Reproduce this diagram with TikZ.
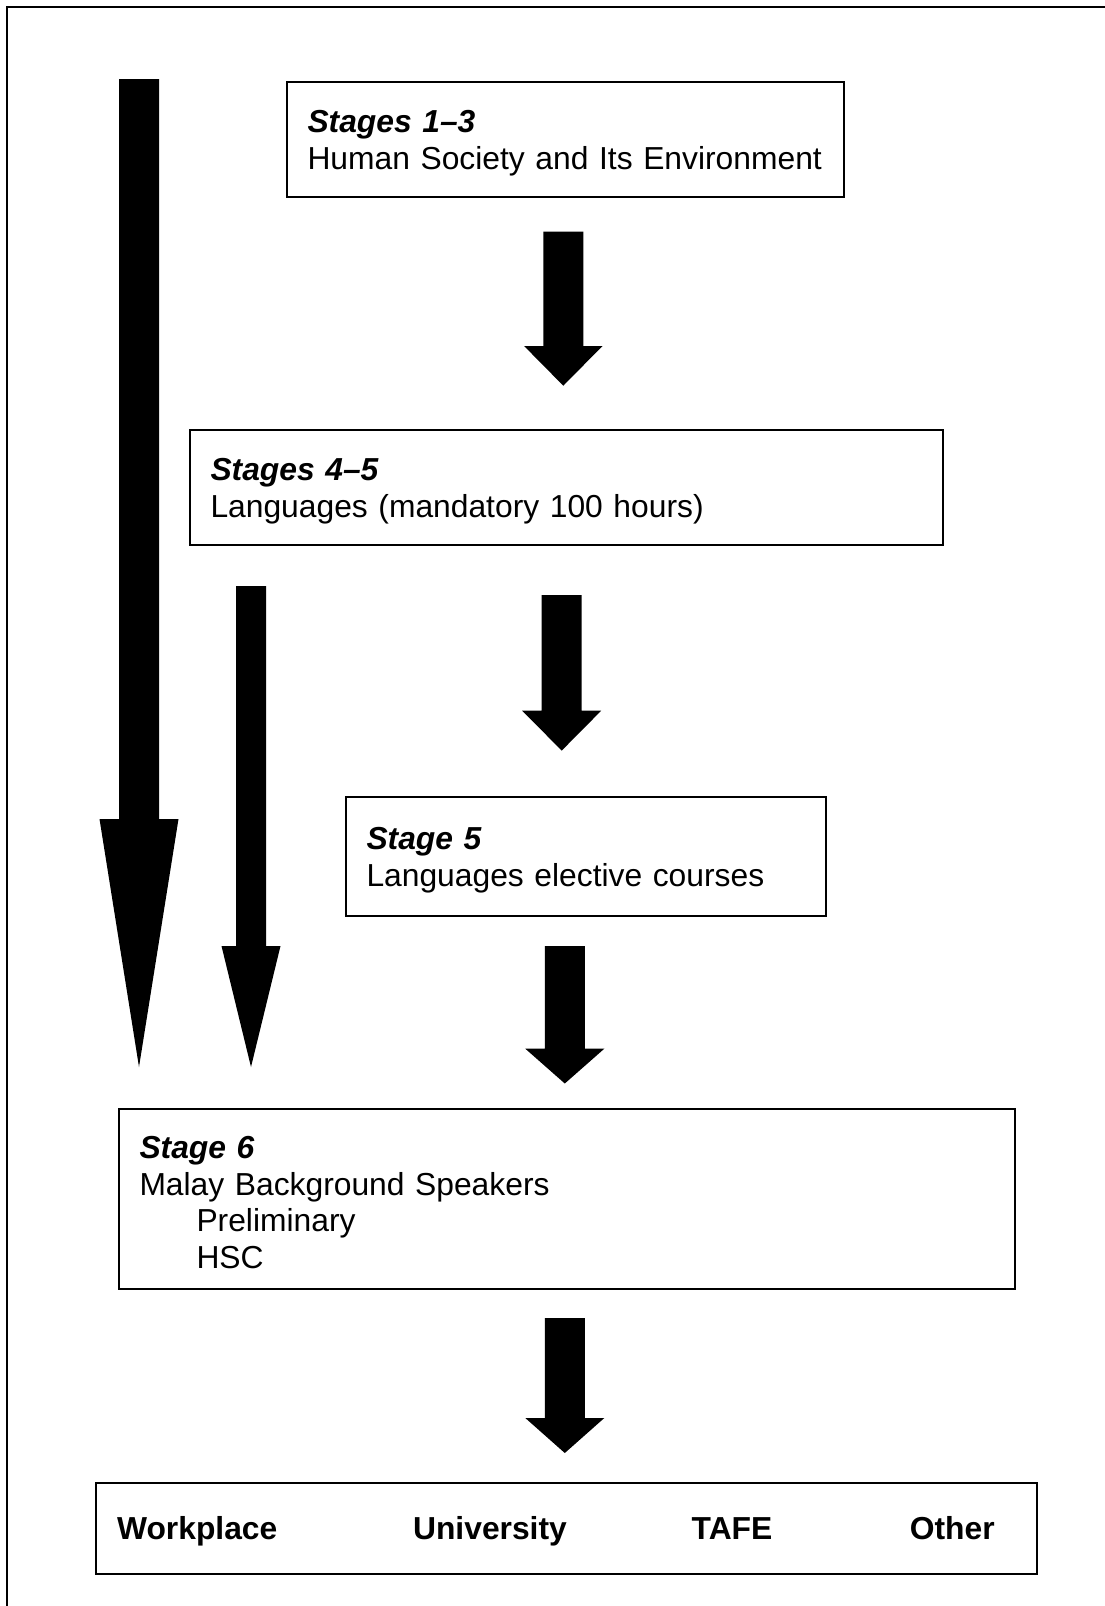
\documentclass[tikz,border=0pt]{standalone}
\usepackage{fontspec}
\setmainfont{Liberation Sans}
\begin{document}
\begin{tikzpicture}[x=0.5pt,y=-0.5pt,
  stagebox/.style={draw=black, line width=0.8pt, align=left, inner xsep=10.25pt, inner ysep=2pt,
    font=\fontsize{15.9}{18.3}\selectfont, anchor=center},
  dest/.style={anchor=base west, inner sep=0pt, font=\fontsize{15.9}{18.3}\selectfont\bfseries},
  blk/.style={fill=black, draw=none}]
\useasboundingbox (0,0) rectangle (1104,1606);
% outer frame (left and top edges only visible)
\draw[line width=1pt] (7,1620) -- (7,7) -- (1120,7);
\newcommand\blkarrow[6]{% cx, top, headtop, tip, halfshaft, halfhead
  \fill[blk] ({#1-#5},#2) -- ({#1+#5},#2) -- ({#1+#5},#3) -- ({#1+#6},#3) -- (#1,#4)
    -- ({#1-#6},#3) -- ({#1-#5},#3) -- cycle;}
\newcommand\topstrut{\rule{0pt}{14.6pt}}
% boxes
\node[stagebox, minimum width=278.5pt, minimum height=57.5pt, text width=258pt] (s13) at (565.5,139.5)
  {\topstrut\textbf{\textit{Stages 1–3}}\\\mbox{Human Society and Its Environment}};
\node[stagebox, minimum width=376.5pt, minimum height=57.5pt, text width=356pt] (s45) at (566.5,487.5)
  {\topstrut\textbf{\textit{Stages 4–5}}\\Languages (mandatory 100 hours)};
\node[stagebox, minimum width=240pt, minimum height=59.5pt, text width=219.5pt] (s5) at (586,856.5)
  {\topstrut\textbf{\textit{Stage 5}}\\\mbox{Languages elective courses}};
\node[stagebox, minimum width=448pt, minimum height=90pt, text width=427.5pt] (s6) at (567,1199)
  {\topstrut\textbf{\textit{Stage 6}}\\Malay Background Speakers\\\hspace*{28.5pt}Preliminary\\\hspace*{28.5pt}HSC};
\node[draw=black, line width=0.8pt, minimum width=470.5pt, minimum height=45.5pt, inner sep=0pt] (out) at (566.5,1528.5) {};
\node[dest] (work) at (116.7,1539) {Workplace};
\node[dest] (uni) at (412.7,1539) {University};
\node[dest] (tafe) at (691.3,1539) {TAFE};
\node[dest] (other) at (909.4,1539) {Other};
% block arrows
\blkarrow{139}{79}{819}{1067}{20}{39.5}
\blkarrow{251}{586}{946}{1067}{15}{29.5}
\blkarrow{563.3}{231.7}{346}{385.7}{20}{39.2}
\blkarrow{561.7}{595}{710.7}{750.6}{20}{39.5}
\blkarrow{564.8}{946}{1048.7}{1083.5}{20}{39.5}
\blkarrow{564.8}{1318}{1418}{1453}{20}{39.5}
\end{tikzpicture}
\end{document}
